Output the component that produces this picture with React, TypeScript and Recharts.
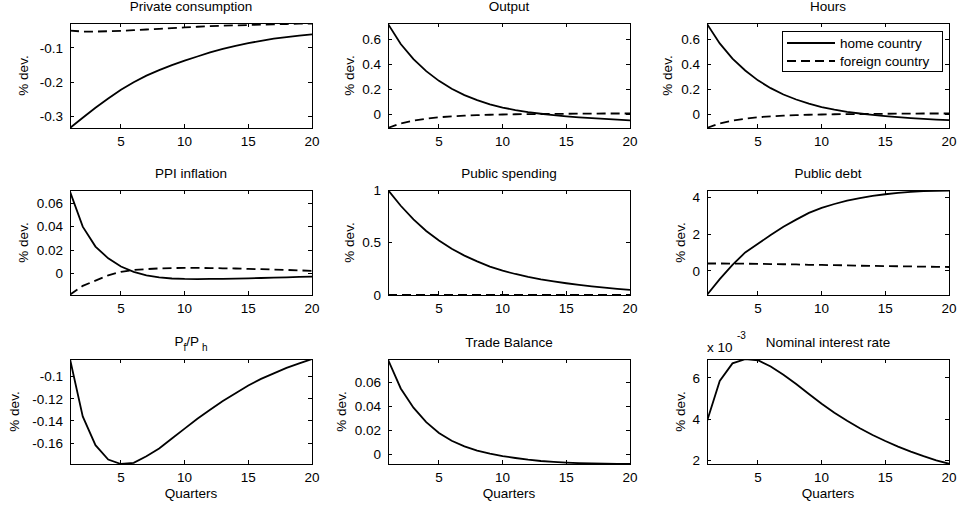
import React from 'react';
import { LineChart, Line, XAxis, YAxis, Legend, ReferenceArea, ReferenceLine } from 'recharts';

// impulse responses, quarters 1..20
const quarters = [1, 2, 3, 4, 5, 6, 7, 8, 9, 10, 11, 12, 13, 14, 15, 16, 17, 18, 19, 20];
const xTicks = [5, 10, 15, 20];
const seriesNames = ['home country', 'foreign country'];

const consumptionHome = [-0.334, -0.304, -0.275, -0.248, -0.222, -0.2, -0.181, -0.165, -0.15, -0.137, -0.125, -0.113, -0.103, -0.094, -0.086, -0.079, -0.073, -0.068, -0.064, -0.06];
const consumptionForeign = [-0.049, -0.052, -0.052, -0.051, -0.05, -0.048, -0.046, -0.044, -0.042, -0.04, -0.038, -0.036, -0.035, -0.034, -0.033, -0.032, -0.031, -0.03, -0.029, -0.029];

const outputHome = [0.72, 0.56, 0.44, 0.345, 0.268, 0.205, 0.155, 0.115, 0.082, 0.056, 0.036, 0.02, 0.007, -0.004, -0.013, -0.021, -0.028, -0.034, -0.04, -0.045];
const outputForeign = [-0.105, -0.07, -0.048, -0.032, -0.021, -0.013, -0.008, -0.004, -0.001, 0.001, 0.003, 0.004, 0.005, 0.006, 0.007, 0.008, 0.008, 0.009, 0.009, 0.009];

const hoursHome = [0.72, 0.565, 0.445, 0.35, 0.272, 0.21, 0.16, 0.12, 0.087, 0.06, 0.039, 0.022, 0.009, -0.002, -0.012, -0.02, -0.027, -0.033, -0.039, -0.044];
const hoursForeign = [-0.105, -0.07, -0.048, -0.032, -0.021, -0.013, -0.008, -0.004, -0.001, 0.001, 0.003, 0.004, 0.005, 0.006, 0.007, 0.008, 0.008, 0.009, 0.009, 0.009];

const ppiHome = [0.07, 0.04, 0.023, 0.013, 0.006, 0.0015, -0.0015, -0.0033, -0.0042, -0.0046, -0.0047, -0.0046, -0.0045, -0.0043, -0.0041, -0.0038, -0.0035, -0.0032, -0.0029, -0.0026];
const ppiForeign = [-0.018, -0.0105, -0.006, -0.0015, 0.0015, 0.003, 0.0038, 0.0044, 0.0047, 0.0048, 0.0048, 0.0047, 0.0045, 0.0043, 0.004, 0.0037, 0.0034, 0.0031, 0.0027, 0.0023];

const spendingHome = [1.0, 0.85, 0.72, 0.61, 0.52, 0.44, 0.375, 0.32, 0.27, 0.232, 0.2, 0.172, 0.148, 0.129, 0.112, 0.097, 0.083, 0.07, 0.058, 0.048];
const spendingForeign = [0, 0, 0, 0, 0, 0, 0, 0, 0, 0, 0, 0, 0, 0, 0, 0, 0, 0, 0, 0];

const debtHome = [-1.3, -0.45, 0.33, 1.0, 1.47, 1.95, 2.4, 2.78, 3.15, 3.42, 3.63, 3.81, 3.95, 4.07, 4.16, 4.23, 4.29, 4.33, 4.35, 4.36];
const debtForeign = [0.4, 0.4, 0.39, 0.39, 0.38, 0.37, 0.36, 0.35, 0.33, 0.32, 0.31, 0.3, 0.28, 0.27, 0.26, 0.25, 0.24, 0.23, 0.22, 0.21];

const termsHome = [-0.084, -0.136, -0.162, -0.175, -0.179, -0.178, -0.172, -0.165, -0.156, -0.147, -0.138, -0.13, -0.122, -0.115, -0.108, -0.102, -0.097, -0.092, -0.088, -0.084];

const tradeHome = [0.079, 0.055, 0.039, 0.027, 0.018, 0.0115, 0.0068, 0.0033, 0.0008, -0.0012, -0.0028, -0.0042, -0.0053, -0.0061, -0.0067, -0.0071, -0.0074, -0.0076, -0.0077, -0.0078];

// x 10^-3
const rateHome = [3.9, 5.85, 6.7, 6.9, 6.85, 6.55, 6.15, 5.7, 5.22, 4.75, 4.32, 3.93, 3.57, 3.24, 2.95, 2.68, 2.44, 2.22, 2.02, 1.85];

const FONT = '"Liberation Sans", Arial, Helvetica, sans-serif';
const FS = 13.5;
const COL_X = [70, 388, 707];
const ROW_Y = [23, 190, 359];
const PLOT_W = 242;
const PLOT_H = 105;
const AXIS_W = 70;
const BOTTOM_H = 40;
const PAD_TOP = 8;
const PAD_RIGHT = 12;
const DASH = '9 5';
const LW = 1.8;
const TICK = 4;

// matlab style inward ticks, drawn at both ends of a reference line
const VTicks = (p: any) => {
  const top = Math.min(p.y1, p.y2);
  const bot = Math.max(p.y1, p.y2);
  return (
    <g shapeRendering="crispEdges">
      <line x1={p.x1} x2={p.x1} y1={top} y2={top + TICK} stroke="#000" />
      <line x1={p.x1} x2={p.x1} y1={bot - TICK} y2={bot} stroke="#000" />
    </g>
  );
};
const HTicks = (p: any) => {
  const l = Math.min(p.x1, p.x2);
  const r = Math.max(p.x1, p.x2);
  return (
    <g shapeRendering="crispEdges">
      <line x1={l} x2={l + TICK} y1={p.y1} y2={p.y1} stroke="#000" />
      <line x1={r - TICK} x2={r} y1={p.y1} y2={p.y1} stroke="#000" />
    </g>
  );
};

const LegendBox = () => (
  <svg width={161} height={41} style={{ display: 'block' }}>
    <rect x={0.5} y={0.5} width={160} height={40} fill="#fff" stroke="#000" />
    {seriesNames.map((name, i) => (
      <g key={name}>
        <line x1={5} x2={53} y1={12 + i * 18} y2={12 + i * 18} stroke="#000" strokeWidth={LW}
          strokeDasharray={i === 1 ? DASH : undefined} />
        <text x={58} y={16.5 + i * 18} fontSize={FS} fill="#000">{name}</text>
      </g>
    ))}
  </svg>
);

interface PanelProps {
  col: number;
  row: number;
  title: React.ReactNode;
  titleShift?: number;
  home: number[];
  foreign?: number[];
  domain: [number, number];
  ticks: number[];
  labelX: number;
  quartersLabel?: boolean;
  legend?: boolean;
}

const Panel: React.FC<PanelProps> = ({ col, row, title, titleShift = 0, home, foreign, domain, ticks, labelX, quartersLabel, legend }) => {
  const data = quarters.map((q, i) => ({ q, home: home[i], foreign: foreign ? foreign[i] : undefined }));
  const left = COL_X[col] - AXIS_W;
  const top = ROW_Y[row] - 1 - PAD_TOP;
  const axisLine = { stroke: '#000', shapeRendering: 'crispEdges' };
  return (
    <>
      <div style={{
        position: 'absolute', left: COL_X[col] + PLOT_W / 2 - 120, width: 240, top: ROW_Y[row] - 23 + titleShift,
        textAlign: 'center', fontSize: FS, lineHeight: `${FS}px`, whiteSpace: 'nowrap',
      }}>{title}</div>
      <div style={{ position: 'absolute', left, top }}>
        <LineChart width={AXIS_W + PLOT_W + PAD_RIGHT} height={PAD_TOP + 1 + PLOT_H + BOTTOM_H} data={data}
          margin={{ top: PAD_TOP + 1, right: PAD_RIGHT, bottom: 0, left: 0 }}>
          <XAxis dataKey="q" type="number" domain={[1, 20]} allowDataOverflow ticks={xTicks} interval={0}
            height={BOTTOM_H} stroke="#000" axisLine={axisLine} tickLine={false} tickSize={0} tickMargin={8}
            tick={{ fill: '#000', fontSize: FS }}
            label={quartersLabel ? { value: 'Quarters', position: 'insideBottom', offset: 6.5, fill: '#000', fontSize: FS } : undefined} />
          <YAxis type="number" domain={domain} allowDataOverflow ticks={ticks} interval={0} width={AXIS_W}
            stroke="#000" axisLine={axisLine} tickLine={false} tickSize={0} tickMargin={7} tick={{ fill: '#000', fontSize: FS }}
            label={{ value: '% dev.', angle: -90, position: 'insideLeft', offset: labelX, fill: '#000', fontSize: FS, style: { textAnchor: 'middle' } }} />
          <ReferenceArea x1={1} x2={20} y1={domain[0]} y2={domain[1]} fill="none" stroke="#000" strokeWidth={1}
            shapeRendering="crispEdges" />
          {xTicks.map((t) => <ReferenceLine key={`x${t}`} x={t} shape={VTicks} />)}
          {ticks.map((t) => <ReferenceLine key={`y${t}`} y={t} shape={HTicks} />)}
          {legend && (
            <Legend layout="vertical" align="center" verticalAlign="middle" content={LegendBox}
              wrapperStyle={{ left: 145, top: 9 + PAD_TOP, width: 161, height: 41 }} />
          )}
          <Line type="linear" dataKey="home" name={seriesNames[0]} stroke="#000" strokeWidth={LW}
            dot={false} isAnimationActive={false} />
          {foreign && (
            <Line type="linear" dataKey="foreign" name={seriesNames[1]} stroke="#000" strokeWidth={LW}
              strokeDasharray={DASH} dot={false} isAnimationActive={false} />
          )}
        </LineChart>
      </div>
    </>
  );
};

const sub = { fontSize: 10, verticalAlign: '-5px' as const };

export default function App() {
  return (
    <div style={{ position: 'absolute', left: 0, top: 0, width: 957, height: 507, background: '#fff', fontFamily: FONT, color: '#000' }}>
      <Panel col={0} row={0} title="Private consumption" home={consumptionHome} foreign={consumptionForeign}
        domain={[-0.334, -0.027]} ticks={[-0.3, -0.2, -0.1]} labelX={23} />
      <Panel col={1} row={0} title="Output" home={outputHome} foreign={outputForeign}
        domain={[-0.106, 0.727]} ticks={[0, 0.2, 0.4, 0.6]} labelX={31} />
      <Panel col={2} row={0} title="Hours" home={hoursHome} foreign={hoursForeign}
        domain={[-0.106, 0.727]} ticks={[0, 0.2, 0.4, 0.6]} labelX={30} legend />

      <Panel col={0} row={1} title="PPI inflation" home={ppiHome} foreign={ppiForeign}
        domain={[-0.0183, 0.0713]} ticks={[0, 0.02, 0.04, 0.06]} labelX={23} />
      <Panel col={1} row={1} title="Public spending" home={spendingHome} foreign={spendingForeign}
        domain={[0, 1]} ticks={[0, 0.5, 1]} labelX={31} />
      <Panel col={2} row={1} title="Public debt" home={debtHome} foreign={debtForeign}
        domain={[-1.31, 4.39]} ticks={[0, 2, 4]} labelX={43} />

      <Panel col={0} row={2} title={<>P<span style={sub}>f</span>/P<span style={sub}> h</span></>} titleShift={-1}
        home={termsHome} domain={[-0.179, -0.084]} ticks={[-0.16, -0.14, -0.12, -0.1]} labelX={14} quartersLabel />
      <Panel col={1} row={2} title="Trade Balance" home={tradeHome}
        domain={[-0.0078, 0.0795]} ticks={[0, 0.02, 0.04, 0.06]} labelX={23} quartersLabel />
      <Panel col={2} row={2} title="Nominal interest rate" home={rateHome}
        domain={[1.84, 6.91]} ticks={[2, 4, 6]} labelX={43} quartersLabel />

      <div style={{ position: 'absolute', left: 707, top: 340.5, fontSize: FS, lineHeight: `${FS}px`, whiteSpace: 'nowrap' }}>x 10</div>
      <div style={{ position: 'absolute', left: 737, top: 331, fontSize: 10, lineHeight: '10px' }}>-3</div>
    </div>
  );
}
